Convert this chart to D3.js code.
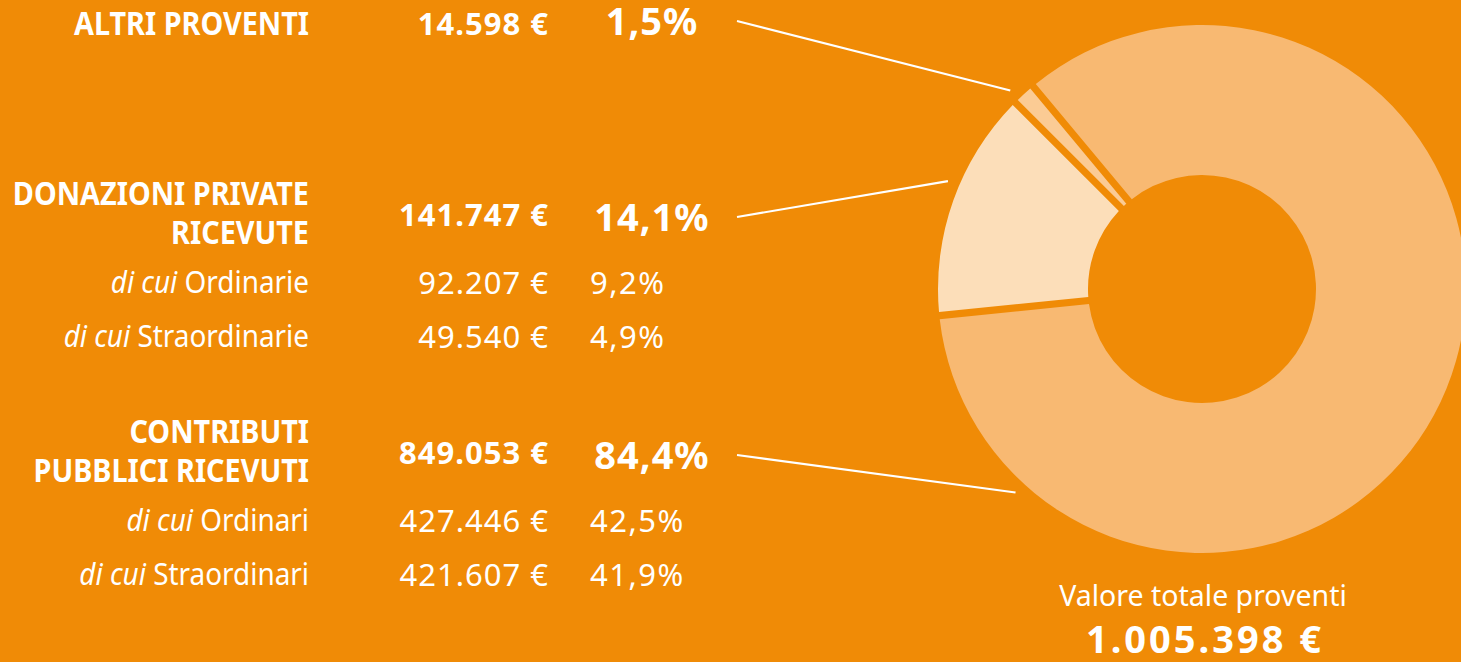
<!DOCTYPE html>
<html>
<head>
<meta charset="utf-8">
<script src="https://cdn.jsdelivr.net/npm/d3@7"></script>
<style>
  html, body { margin: 0; padding: 0; background: #F08B06; }
  svg { display: block; }
  text { font-family: "Noto Sans", "Open Sans", sans-serif; fill: #ffffff; }
</style>
</head>
<body>
<svg id="chart" width="1461" height="662"></svg>
<script>
// Revenue groups (order matches the donut, drawn clockwise)
const groupKeys = ["contributi", "donazioni", "altri"];
const groupHeadings = [["CONTRIBUTI", "PUBBLICI RICEVUTI"], ["DONAZIONI PRIVATE", "RICEVUTE"], ["ALTRI PROVENTI"]];
const groupValues = [849053, 141747, 14598];
const groupPercents = [84.4, 14.1, 1.5];

// Breakdown rows ("di cui ...")
const subLabels = [["Ordinari", "Straordinari"], ["Ordinarie", "Straordinarie"], []];
const subValues = [[427446, 421607], [92207, 49540], []];
const subPercents = [[42.5, 41.9], [9.2, 4.9], []];

const totalLabel = "Valore totale proventi";
const totalValue = 1005398;

// Slice colours
const sliceColors = ["#F8B972", "#FCDEB9", "#FBCB94"];

// ---- layout ----
const W = 1461, H = 662;
const bg = "#F08B06";
const cx = 1202, cy = 289, rOuter = 264, rInner = 114;
const startDeg = -39.8;
const labelRight = 309, moneyRight = 549, pctLeft = 590, pctBoldMid = 652, leaderX = 737;
// heading baseline per group
const headBase = { altri: 35, donazioni: 205, contributi: 443 };
const leaderDeg = { altri: -44, donazioni: -67, contributi: -137.5 };
const condense = 0.9;

const it = d3.formatLocale({ decimal: ",", thousands: ".", grouping: [3], currency: ["", "\u00a0€"] });
const fmtMoney = it.format("$,.0f");
const fmtPct = it.format(".1f");

const svg = d3.select("#chart");
svg.append("rect").attr("width", W).attr("height", H).attr("fill", bg);

// ---- donut ----
const pie = d3.pie().sort(null).value(d => d.value)
  .startAngle(startDeg * Math.PI / 180)
  .endAngle(startDeg * Math.PI / 180 + 2 * Math.PI);
const slices = groupKeys.map((k, i) => ({ key: k, value: groupValues[i], color: sliceColors[i] }));
const arcs = pie(slices);
const arc = d3.arc().innerRadius(rInner).outerRadius(rOuter).padAngle(0.025);

const donut = svg.append("g").attr("transform", `translate(${cx},${cy})`);
donut.selectAll("path").data(arcs).join("path")
  .attr("d", arc)
  .attr("fill", d => d.data.color);

// ---- table ----
function condensed(sel, x, y, anchor) {
  return sel.attr("text-anchor", anchor)
    .attr("transform", `translate(${x},${y}) scale(${condense},1)`);
}

const table = svg.append("g");
groupKeys.forEach((k, i) => {
  const base = headBase[k];
  const lines = groupHeadings[i];
  const g = table.append("g");
  lines.forEach((ln, j) => {
    condensed(g.append("text"), labelRight, base + j * 39, "end")
      .attr("font-size", 32).attr("font-weight", 700).text(ln);
  });
  const extra = lines.length - 1;
  const moneyBase = base + extra * 21;
  const pctBase = base + extra * 26;
  g.append("text").attr("x", moneyRight).attr("y", moneyBase)
    .attr("text-anchor", "end").attr("font-size", 31).attr("font-weight", 700)
    .attr("letter-spacing", 1).text(fmtMoney(groupValues[i]));
  g.append("text").attr("x", pctBoldMid).attr("y", pctBase)
    .attr("text-anchor", "middle").attr("font-size", 38).attr("font-weight", 700)
    .attr("letter-spacing", 1).text(fmtPct(groupPercents[i]) + "%");

  subLabels[i].forEach((s, j) => {
    const y = base + 88 + j * 54;
    const t = condensed(g.append("text"), labelRight, y, "end").attr("font-size", 31);
    t.append("tspan").attr("font-style", "italic").text("di cui ");
    t.append("tspan").text(s);
    g.append("text").attr("x", moneyRight).attr("y", y + 1)
      .attr("text-anchor", "end").attr("font-size", 31)
      .attr("letter-spacing", 1).text(fmtMoney(subValues[i][j]));
    g.append("text").attr("x", pctLeft).attr("y", y + 1)
      .attr("font-size", 31).attr("letter-spacing", 1.5)
      .text(fmtPct(subPercents[i][j]) + "%");
  });

  // leader line toward the donut
  const a = leaderDeg[k] * Math.PI / 180;
  const r = rOuter + 12;
  const line = d3.line();
  svg.append("path")
    .attr("d", line([[leaderX, pctBase - 14], [cx + r * Math.sin(a), cy - r * Math.cos(a)]]))
    .attr("stroke", "#fff").attr("stroke-width", 2.2).attr("fill", "none");
});

// ---- total ----
svg.append("text").attr("x", 1203).attr("y", 606).attr("text-anchor", "middle")
  .attr("font-size", 28.5).text(totalLabel);
svg.append("text").attr("x", 1205).attr("y", 653).attr("text-anchor", "middle")
  .attr("font-size", 38).attr("font-weight", 700).attr("letter-spacing", 3)
  .text(fmtMoney(totalValue));
</script>
</body>
</html>
